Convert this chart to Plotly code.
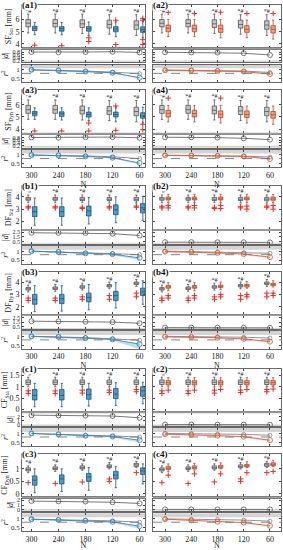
import plotly.graph_objects as go

# ---------------- data ----------------
N_LABELS = ["300", "240", "180", "120", "60"]

# box statistics: rows = lower fence, q1, median, q3, upper fence ; columns follow N_LABELS
sf_sta_gray = [[4.9, 4.9, 4.85, 4.8, 4.7], [5.4, 5.4, 5.35, 5.3, 5.2], [5.7, 5.68, 5.65, 5.6, 5.55],
               [6.0, 6.0, 5.98, 5.95, 5.9], [6.45, 6.45, 6.45, 6.4, 6.4]]
a1_box = [[4.75, 4.75, 4.7, 4.6, 4.5], [5.1, 5.05, 5.05, 5.0, 4.95], [5.3, 5.25, 5.25, 5.22, 5.18],
          [5.45, 5.42, 5.42, 5.42, 5.4], [5.75, 5.75, 5.8, 5.8, 5.85]]
a2_box = [[4.6, 4.6, 4.5, 4.5, 4.4], [5.0, 5.0, 4.95, 4.95, 4.9], [5.3, 5.25, 5.25, 5.2, 5.2],
          [5.55, 5.55, 5.55, 5.5, 5.5], [6.0, 6.0, 6.0, 5.95, 5.95]]
sf_dyn_gray = [[4.8, 4.8, 4.75, 4.7, 4.6], [5.3, 5.3, 5.25, 5.2, 5.1], [5.6, 5.6, 5.55, 5.5, 5.45],
               [5.95, 5.95, 5.9, 5.85, 5.8], [6.4, 6.4, 6.4, 6.35, 6.35]]
a3_box = [[4.8, 4.75, 4.7, 4.6, 4.5], [5.1, 5.05, 5.0, 5.0, 4.9], [5.3, 5.25, 5.2, 5.2, 5.1],
          [5.45, 5.42, 5.4, 5.4, 5.35], [5.75, 5.75, 5.75, 5.8, 5.8]]
a4_box = [[4.6, 4.6, 4.5, 4.5, 4.4], [5.0, 5.0, 4.95, 4.95, 4.9], [5.3, 5.28, 5.22, 5.2, 5.18],
          [5.55, 5.55, 5.5, 5.5, 5.45], [5.95, 5.95, 5.95, 5.9, 5.9]]
df_sta_gray = [[3.55, 3.55, 3.55, 3.5, 3.5], [3.72, 3.72, 3.7, 3.7, 3.68], [3.82, 3.82, 3.8, 3.8, 3.8],
               [3.95, 3.95, 3.95, 3.95, 3.95], [4.15, 4.15, 4.15, 4.15, 4.15]]
b1_box = [[1.7, 1.7, 1.8, 1.9, 2.1], [2.4, 2.4, 2.45, 2.55, 2.7], [2.8, 2.8, 2.85, 2.95, 3.1],
          [3.2, 3.2, 3.25, 3.35, 3.45], [3.9, 3.9, 3.95, 4.0, 4.05]]
b2_box = [[3.55, 3.55, 3.55, 3.55, 3.55], [3.75, 3.75, 3.75, 3.75, 3.72], [3.85, 3.85, 3.85, 3.85, 3.82],
          [3.98, 3.98, 3.98, 3.98, 3.98], [4.2, 4.2, 4.2, 4.2, 4.2]]
df_dyn_gray = [[3.2, 3.25, 3.35, 3.45, 3.65], [3.35, 3.4, 3.5, 3.6, 3.8], [3.45, 3.5, 3.6, 3.7, 3.9],
               [3.55, 3.6, 3.7, 3.8, 4.0], [3.75, 3.8, 3.9, 4.0, 4.2]]
b3_box = [[1.6, 1.65, 1.75, 1.9, 2.2], [2.2, 2.25, 2.4, 2.5, 2.9], [2.6, 2.65, 2.75, 2.9, 3.2],
          [3.0, 3.0, 3.1, 3.25, 3.5], [3.7, 3.7, 3.8, 3.95, 4.1]]
b4_box = [[3.3, 3.3, 3.4, 3.5, 3.6], [3.5, 3.5, 3.55, 3.6, 3.7], [3.6, 3.6, 3.65, 3.7, 3.8],
          [3.72, 3.72, 3.75, 3.8, 3.9], [3.95, 3.95, 4.0, 4.05, 4.1]]
cf_sta_gray = [[1.0, 1.0, 1.0, 1.0, 1.0], [1.1, 1.1, 1.1, 1.1, 1.1], [1.2, 1.2, 1.2, 1.2, 1.2],
               [1.3, 1.3, 1.3, 1.3, 1.3], [1.42, 1.42, 1.42, 1.42, 1.42]]
c1_box = [[0.12, 0.12, 0.15, 0.18, 0.25], [0.42, 0.42, 0.45, 0.48, 0.58], [0.62, 0.62, 0.65, 0.68, 0.82],
          [0.88, 0.88, 0.9, 0.92, 1.0], [1.15, 1.15, 1.15, 1.18, 1.2]]
c2_box = [[1.0, 1.0, 1.0, 1.0, 1.0], [1.08, 1.08, 1.08, 1.08, 1.08], [1.18, 1.18, 1.18, 1.18, 1.18],
          [1.27, 1.27, 1.27, 1.27, 1.27], [1.4, 1.4, 1.4, 1.4, 1.4]]
cf_dyn_gray = [[0.85, 0.9, 0.95, 1.0, 1.05], [0.92, 0.97, 1.0, 1.05, 1.1], [0.98, 1.02, 1.05, 1.1, 1.16],
               [1.04, 1.08, 1.12, 1.16, 1.22], [1.12, 1.16, 1.2, 1.25, 1.3]]
c3_box = [[0.05, 0.1, 0.15, 0.25, 0.4], [0.35, 0.4, 0.5, 0.6, 0.78], [0.55, 0.6, 0.68, 0.75, 0.92],
          [0.72, 0.76, 0.82, 0.9, 1.04], [1.0, 1.0, 1.05, 1.1, 1.2]]
c4_box = [[0.9, 0.95, 1.0, 1.05, 1.1], [0.98, 1.0, 1.03, 1.08, 1.12], [1.03, 1.05, 1.08, 1.12, 1.18],
          [1.1, 1.12, 1.14, 1.18, 1.24], [1.2, 1.22, 1.24, 1.28, 1.34]]

# outliers (category index, value)
a1_out = [(0, 3.9), (1, 3.85), (2, 4.5), (2, 4.2), (3, 5.95), (3, 3.95), (4, 6.1), (4, 5.95), (4, 4.35), (4, 3.95)]
a2_out = [(0, 6.6), (1, 6.5), (2, 6.6), (3, 6.5), (4, 6.5)]
a3_out = [(0, 3.85), (1, 3.85), (2, 4.5), (2, 3.85), (3, 5.9), (3, 3.9), (4, 4.4), (4, 3.95)]
a4_out = [(0, 6.55), (2, 6.55)]
df_sta_gray_out = [(0, 3.2), (0, 3.1), (1, 3.2), (1, 3.1), (2, 3.15), (2, 3.05), (3, 3.2), (3, 3.1), (4, 3.25), (4, 3.15)]
b1_out = []
b2_out = [(0, 3.3), (0, 3.1), (1, 3.3), (1, 3.1), (2, 3.3), (2, 3.05), (3, 3.25), (3, 3.0), (4, 3.3), (4, 3.0)]
df_dyn_gray_out = [(0, 2.7), (0, 2.5), (1, 2.7), (1, 2.5), (2, 2.8), (2, 2.6), (3, 2.9), (3, 2.6), (4, 3.1), (4, 2.8)]
b3_out = []
b4_out = [(0, 2.9), (0, 2.7), (1, 2.9), (1, 2.7), (2, 3.0), (2, 2.8), (3, 3.0), (3, 2.8), (4, 3.1), (4, 2.9)]
cf_sta_gray_out = [(0, 0.82), (0, 0.7), (1, 0.82), (1, 0.7), (2, 0.85), (2, 0.72), (3, 0.85), (3, 0.75), (4, 0.88), (4, 0.78)]
c1_out = []
c2_out = [(0, 0.85), (1, 0.85), (2, 0.88), (3, 0.88), (4, 0.9)]
cf_dyn_gray_out = [(0, 0.45), (1, 0.42), (2, 0.48), (3, 0.6), (3, 0.5), (4, 0.85)]
c3_out = []
c4_out = [(0, 0.75), (1, 0.8), (2, 0.8), (3, 0.85), (4, 0.9)]

# effect size |d|
a1_d = [0.82, 0.80, 0.82, 0.84, 0.79]
a2_d = [0.80, 0.79, 0.78, 0.73, 0.60]
a3_d = [0.80, 0.79, 0.82, 0.83, 0.78]
a4_d = [0.82, 0.82, 0.79, 0.74, 0.64]
b1_d = [2.40, 2.38, 2.33, 2.20, 1.80]
b2_d = [0.35, 0.35, 0.33, 0.33, 0.30]
b3_d = [1.70, 1.65, 1.60, 1.50, 1.25]
b4_d = [0.30, 0.30, 0.30, 0.28, 0.25]
c1_d = [2.35, 2.30, 2.25, 2.15, 1.75]
c2_d = [0.15, 0.15, 0.15, 0.15, 0.12]
c3_d = [1.85, 1.80, 1.75, 1.60, 1.35]
c4_d = [0.10, 0.10, 0.10, 0.10, 0.10]

# r^2: reference (gray), method (colour), lower bound of method
a1_r2g = [1.0, 0.98, 0.93, 0.87, 0.78]; a1_r2 = [1.0, 0.96, 0.90, 0.83, 0.56]; a1_r2lo = [0.99, 0.94, 0.87, 0.80, 0.50]
a2_r2g = [0.99, 0.98, 0.96, 0.93, 0.85]; a2_r2 = [0.97, 0.96, 0.93, 0.90, 0.76]; a2_r2lo = [0.95, 0.94, 0.90, 0.86, 0.72]
a3_r2g = [1.0, 0.99, 0.95, 0.90, 0.80]; a3_r2 = [1.0, 0.98, 0.92, 0.85, 0.55]; a3_r2lo = [0.99, 0.96, 0.90, 0.82, 0.48]
a4_r2g = [0.99, 0.98, 0.97, 0.94, 0.88]; a4_r2 = [0.98, 0.97, 0.95, 0.92, 0.78]; a4_r2lo = [0.96, 0.95, 0.93, 0.89, 0.74]
b1_r2g = [1.0, 0.97, 0.90, 0.86, 0.80]; b1_r2 = [1.0, 0.95, 0.87, 0.83, 0.62]; b1_r2lo = [0.98, 0.92, 0.84, 0.78, 0.52]
b2_r2g = [1.0, 0.98, 0.95, 0.92, 0.88]; b2_r2 = [0.97, 0.95, 0.90, 0.84, 0.66]; b2_r2lo = [0.95, 0.92, 0.87, 0.80, 0.60]
b3_r2g = [1.0, 0.98, 0.93, 0.86, 0.78]; b3_r2 = [1.0, 0.97, 0.90, 0.83, 0.56]; b3_r2lo = [0.98, 0.93, 0.86, 0.78, 0.30]
b4_r2g = [1.0, 0.99, 0.97, 0.95, 0.90]; b4_r2 = [0.97, 0.95, 0.92, 0.86, 0.70]; b4_r2lo = [0.95, 0.93, 0.89, 0.82, 0.64]
c1_r2g = [1.0, 0.97, 0.90, 0.86, 0.80]; c1_r2 = [1.0, 0.95, 0.87, 0.83, 0.62]; c1_r2lo = [0.98, 0.92, 0.84, 0.78, 0.50]
c2_r2g = [1.0, 0.99, 0.97, 0.95, 0.90]; c2_r2 = [0.96, 0.93, 0.88, 0.82, 0.62]; c2_r2lo = [0.94, 0.90, 0.85, 0.78, 0.56]
c3_r2g = [0.97, 0.95, 0.92, 0.88, 0.80]; c3_r2 = [0.97, 0.93, 0.88, 0.82, 0.58]; c3_r2lo = [0.95, 0.90, 0.85, 0.78, 0.45]
c4_r2g = [0.99, 0.97, 0.95, 0.92, 0.86]; c4_r2 = [0.97, 0.90, 0.83, 0.78, 0.60]; c4_r2lo = [0.95, 0.87, 0.80, 0.74, 0.55]

# ---------------- styling / layout ----------------
FONT = "Liberation Serif"
W, H = 283, 550
COL_PX = [(22, 145), (153, 281)]
COL_RANGE = [[-0.35, 4.2], [-0.46, 4.42]]
ROW_TOP = [3, 89, 186, 272, 370, 456]
BOX_H, GAP_A, D_H, GAP_B, R_H = 43, 2, 13, 2, 18

STY = {
    "blue": dict(fill="#4d9bcb", line="#1f5378", rline="#3a86bb", band="rgba(90,160,210,0.35)"),
    "orange": dict(fill="#f29d7c", line="#b04a2c", rline="#d7623e", band="rgba(240,150,120,0.35)"),
}
GRAY_FILL, GRAY_LINE = "#c6c6c6", "#555555"
RED = "#e0302a"

panels = [
    dict(lab="(a1)", col=0, row=0, yt="SF<sub>Sta</sub> [mm]", yr=[3.7, 7.2], tv=[4, 5, 6], g=sf_sta_gray, gout=[], b=a1_box, out=a1_out, c="blue",
         d=a1_d, dr=[0.05, 1.0], dtv=[0.2, 0.4, 0.6, 0.8], r2g=a1_r2g, r2=a1_r2, r2lo=a1_r2lo),
    dict(lab="(a2)", col=1, row=0, yt="", yr=[3.7, 7.2], tv=[4, 5, 6], g=sf_sta_gray, gout=[], b=a2_box, out=a2_out, c="orange",
         d=a2_d, dr=[0.05, 1.0], dtv=[0.2, 0.4, 0.6, 0.8], r2g=a2_r2g, r2=a2_r2, r2lo=a2_r2lo),
    dict(lab="(a3)", col=0, row=1, yt="SF<sub>Dyn</sub> [mm]", yr=[3.7, 7.2], tv=[4, 5, 6], g=sf_dyn_gray, gout=[], b=a3_box, out=a3_out, c="blue",
         d=a3_d, dr=[0.05, 1.0], dtv=[0.2, 0.4, 0.6, 0.8], r2g=a3_r2g, r2=a3_r2, r2lo=a3_r2lo),
    dict(lab="(a4)", col=1, row=1, yt="", yr=[3.7, 7.2], tv=[4, 5, 6], g=sf_dyn_gray, gout=[], b=a4_box, out=a4_out, c="orange",
         d=a4_d, dr=[0.05, 1.0], dtv=[0.2, 0.4, 0.6, 0.8], r2g=a4_r2g, r2=a4_r2, r2lo=a4_r2lo),
    dict(lab="(b1)", col=0, row=2, yt="DF<sub>Sta</sub> [mm]", yr=[1.4, 4.85], tv=[2, 3, 4], g=df_sta_gray, gout=df_sta_gray_out, b=b1_box, out=b1_out, c="blue",
         d=b1_d, dr=[0.0, 2.8], dtv=[0.5, 1.5, 2.5], r2g=b1_r2g, r2=b1_r2, r2lo=b1_r2lo),
    dict(lab="(b2)", col=1, row=2, yt="", yr=[1.4, 4.85], tv=[2, 3, 4], g=df_sta_gray, gout=df_sta_gray_out, b=b2_box, out=b2_out, c="orange",
         d=b2_d, dr=[0.0, 2.8], dtv=[0.5, 1.5, 2.5], r2g=b2_r2g, r2=b2_r2, r2lo=b2_r2lo),
    dict(lab="(b3)", col=0, row=3, yt="DF<sub>Dyn</sub> [mm]", yr=[1.4, 4.85], tv=[2, 3, 4], g=df_dyn_gray, gout=df_dyn_gray_out, b=b3_box, out=b3_out, c="blue",
         d=b3_d, dr=[0.0, 2.8], dtv=[0.5, 1.5, 2.5], r2g=b3_r2g, r2=b3_r2, r2lo=b3_r2lo),
    dict(lab="(b4)", col=1, row=3, yt="", yr=[1.4, 4.85], tv=[2, 3, 4], g=df_dyn_gray, gout=df_dyn_gray_out, b=b4_box, out=b4_out, c="orange",
         d=b4_d, dr=[0.0, 2.8], dtv=[0.5, 1.5, 2.5], r2g=b4_r2g, r2=b4_r2, r2lo=b4_r2lo),
    dict(lab="(c1)", col=0, row=4, yt="CF<sub>Sta</sub> [mm]", yr=[-0.08, 1.8], tv=[0, 0.5, 1, 1.5], g=cf_sta_gray, gout=cf_sta_gray_out, b=c1_box, out=c1_out, c="blue",
         d=c1_d, dr=[-0.2, 2.8], dtv=[0, 1, 2], r2g=c1_r2g, r2=c1_r2, r2lo=c1_r2lo),
    dict(lab="(c2)", col=1, row=4, yt="", yr=[-0.08, 1.8], tv=[0, 0.5, 1, 1.5], g=cf_sta_gray, gout=cf_sta_gray_out, b=c2_box, out=c2_out, c="orange",
         d=c2_d, dr=[-0.2, 2.8], dtv=[0, 1, 2], r2g=c2_r2g, r2=c2_r2, r2lo=c2_r2lo),
    dict(lab="(c3)", col=0, row=5, yt="CF<sub>Dyn</sub> [mm]", yr=[-0.1, 1.6], tv=[0, 0.5, 1], g=cf_dyn_gray, gout=cf_dyn_gray_out, b=c3_box, out=c3_out, c="blue",
         d=c3_d, dr=[-0.3, 2.4], dtv=[0, 1, 2], r2g=c3_r2g, r2=c3_r2, r2lo=c3_r2lo),
    dict(lab="(c4)", col=1, row=5, yt="", yr=[-0.1, 1.6], tv=[0, 0.5, 1], g=cf_dyn_gray, gout=cf_dyn_gray_out, b=c4_box, out=c4_out, c="orange",
         d=c4_d, dr=[-0.3, 2.4], dtv=[0, 1, 2], r2g=c4_r2g, r2=c4_r2, r2lo=c4_r2lo),
]

OFF = 0.12
BW = 0.17


def ydom(top, h):
    return [1 - (top + h) / H, 1 - top / H]


fig = go.Figure()
layout = dict(width=W, height=H, margin=dict(l=0, r=0, t=0, b=0), paper_bgcolor="white",
              plot_bgcolor="white", showlegend=False, font=dict(family=FONT, size=8, color="#222"))
shapes, annos = [], []
idx = list(range(len(N_LABELS)))

for p_i, p in enumerate(panels):
    col, row = p["col"], p["row"]
    x0px, x1px = COL_PX[col]
    xdom = [x0px / W, x1px / W]
    T = ROW_TOP[row]
    doms = [ydom(T, BOX_H), ydom(T + BOX_H + GAP_A, D_H), ydom(T + BOX_H + GAP_A + D_H + GAP_B, R_H)]
    st = STY[p["c"]]
    n0 = p_i * 3 + 1
    ax = [(f"x{n0 + k}", f"y{n0 + k}") for k in range(3)]
    # ---- box subplot
    xa, ya = ax[0]
    g = p["g"]
    fig.add_trace(go.Box(x=[i - OFF for i in idx], lowerfence=g[0], q1=g[1], median=g[2], q3=g[3], upperfence=g[4],
                         width=BW, fillcolor=GRAY_FILL, line=dict(color=GRAY_LINE, width=0.8), whiskerwidth=0.5,
                         boxpoints=False, xaxis=xa, yaxis=ya, hoverinfo="skip"))
    b = p["b"]
    fig.add_trace(go.Box(x=[i + OFF for i in idx], lowerfence=b[0], q1=b[1], median=b[2], q3=b[3], upperfence=b[4],
                         width=BW, fillcolor=st["fill"], line=dict(color=st["line"], width=0.8), whiskerwidth=0.5,
                         boxpoints=False, xaxis=xa, yaxis=ya, hoverinfo="skip"))
    ox = [o[0] - OFF for o in p["gout"]] + [o[0] + OFF for o in p["out"]]
    oy = [o[1] for o in p["gout"]] + [o[1] for o in p["out"]]
    if ox:
        fig.add_trace(go.Scatter(x=ox, y=oy, mode="markers", xaxis=xa, yaxis=ya, hoverinfo="skip",
                                 marker=dict(symbol="cross-thin-open", size=4, color=RED, line=dict(color=RED, width=1))))
    fig.add_trace(go.Scatter(x=[i - OFF for i in idx], y=g[4], mode="text", text=["*#"] * 5, textposition="top center",
                             textfont=dict(size=6, color="#111", family=FONT), xaxis=xa, yaxis=ya, hoverinfo="skip"))
    # ---- |d| subplot
    xa, ya = ax[1]
    shapes.append(dict(type="rect", xref=f"{xa} domain", yref=ya, x0=0, x1=1, y0=-0.2, y1=0.2,
                       fillcolor="#d4d4d4", line=dict(width=0), layer="below"))
    fig.add_trace(go.Scatter(x=idx, y=p["d"], mode="lines+markers", xaxis=xa, yaxis=ya, hoverinfo="skip",
                             line=dict(color="#555", width=0.8),
                             marker=dict(symbol="circle-open", size=5, color="#555", line=dict(width=0.8))))
    # ---- r2 subplot
    xa, ya = ax[2]
    shapes.append(dict(type="rect", xref=f"{xa} domain", yref=ya, x0=0, x1=1, y0=1.08, y1=1.4,
                       fillcolor="#d4d4d4", line=dict(width=0), layer="below"))
    shapes.append(dict(type="line", xref=f"{xa} domain", yref=ya, x0=0, x1=1, y0=0.8, y1=0.8,
                       line=dict(color="#777", width=0.9, dash="dash")))
    fig.add_trace(go.Scatter(x=idx, y=p["r2"], mode="lines", line=dict(width=0), xaxis=xa, yaxis=ya, hoverinfo="skip"))
    fig.add_trace(go.Scatter(x=idx, y=p["r2lo"], mode="lines", line=dict(width=0.5, color=st["band"]), fill="tonexty",
                             fillcolor=st["band"], xaxis=xa, yaxis=ya, hoverinfo="skip"))
    fig.add_trace(go.Scatter(x=idx, y=p["r2g"], mode="lines+markers", xaxis=xa, yaxis=ya, hoverinfo="skip",
                             line=dict(color="#777", width=0.8),
                             marker=dict(symbol="circle-open", size=4, color="#777", line=dict(width=0.7))))
    fig.add_trace(go.Scatter(x=idx, y=p["r2"], mode="lines+markers", xaxis=xa, yaxis=ya, hoverinfo="skip",
                             line=dict(color=st["rline"], width=0.9),
                             marker=dict(symbol="circle-open", size=5, color=st["rline"], line=dict(width=0.9))))

    # gray separator band between box and |d| subplots
    shapes.append(dict(type="rect", xref="paper", yref="paper", x0=xdom[0], x1=xdom[1],
                       y0=doms[1][1], y1=doms[0][0], fillcolor="#9a9a9a", line=dict(width=0)))

    # axes
    yranges = [p["yr"], p["dr"], [0.3, 1.3]]
    ytvs = [p["tv"], p["dtv"], [0.5, 1]]
    ytitles = [p["yt"], "|<i>d</i>|", "<i>r</i><sup>2</sup>"]
    yfs = [8, 6, 7]
    for k in range(3):
        n = n0 + k
        show_xlab = (k == 2 and row in (1, 3, 5))
        xkey = "xaxis" if n == 1 else f"xaxis{n}"
        ykey = "yaxis" if n == 1 else f"yaxis{n}"
        xd = dict(domain=xdom, anchor=f"y{n}", range=COL_RANGE[col], tickvals=idx, ticktext=N_LABELS,
                  showticklabels=show_xlab, ticks="inside", ticklen=2, tickcolor="#444",
                  mirror="ticks", showline=True, linecolor="#444", linewidth=0.8,
                  showgrid=False, zeroline=False, tickfont=dict(size=8, family=FONT))
        if show_xlab:
            xd["title"] = dict(text="N", font=dict(size=8, family=FONT), standoff=1)
        layout[xkey] = xd
        yd = dict(domain=doms[k], anchor=f"x{n}", range=yranges[k], tickvals=ytvs[k],
                  showticklabels=(col == 0), ticks="inside", ticklen=2, tickcolor="#444",
                  mirror="ticks", showline=True, linecolor="#444", linewidth=0.8,
                  showgrid=False, zeroline=False, tickfont=dict(size=yfs[k], family=FONT))
        if col == 0:
            yd["title"] = dict(text=ytitles[k], font=dict(size=8, family=FONT), standoff=2)
        layout[ykey] = yd
    annos.append(dict(text=f"<b>{p['lab']}</b>", xref="paper", yref="paper", x=xdom[0] - 1 / W, y=doms[0][1],
                      xanchor="left", yanchor="middle", showarrow=False, bgcolor="white",
                      font=dict(size=9, family=FONT, color="#111"), borderpad=0))

layout["shapes"] = shapes
layout["annotations"] = annos
fig.update_layout(**layout)
fig.write_html("out.html", config={"displayModeBar": False, "staticPlot": True},
               post_script="document.body.style.margin='0';document.body.style.overflow='hidden';")
